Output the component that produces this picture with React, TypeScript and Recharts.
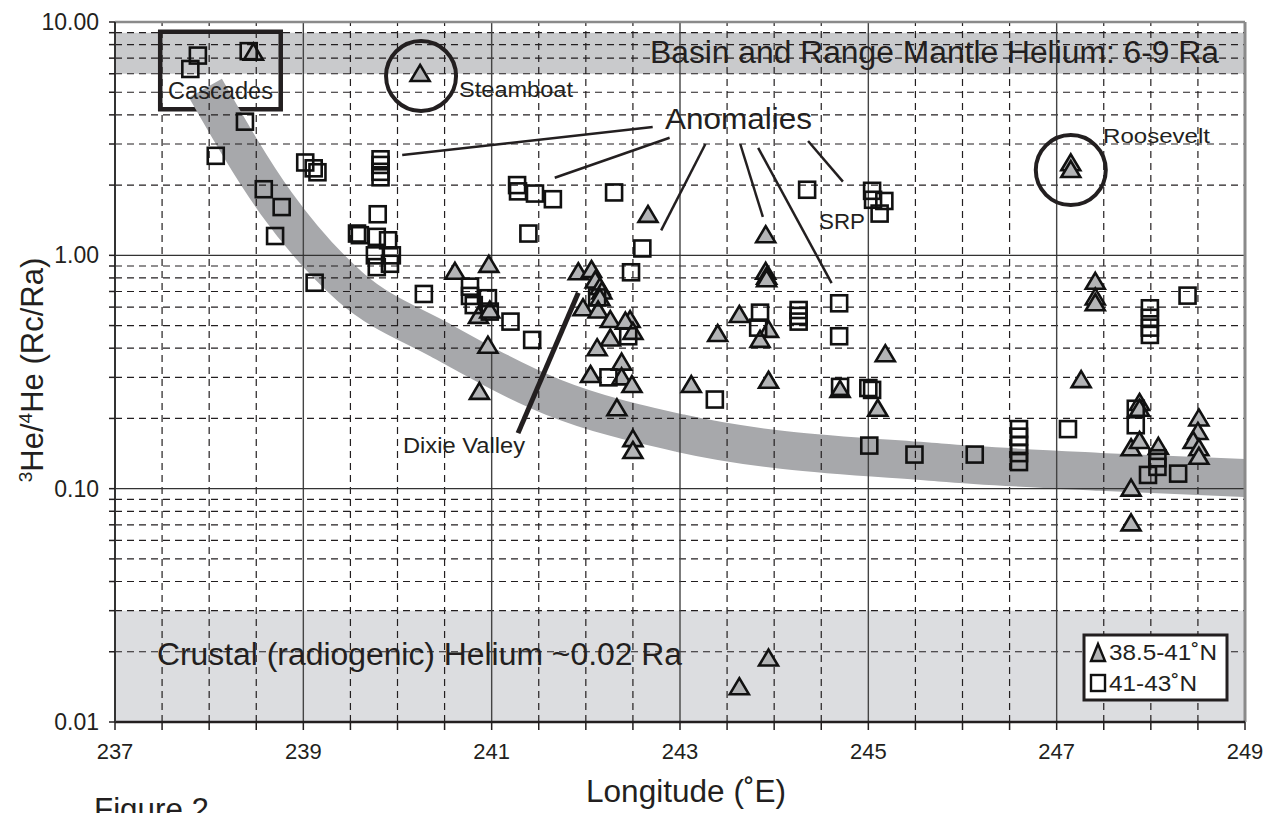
import React from "react";
import {
  ComposedChart,
  Scatter,
  Line,
  XAxis,
  YAxis,
  ReferenceArea,
  ReferenceLine,
  ReferenceDot
} from "recharts";

const INK = "#231f20";
const FONT = "'Liberation Sans', Arial, Helvetica, sans-serif";

// [longitude °E, 3He/4He (Rc/Ra)]
const lat385to41: [number, number][] = [
  [238.47, 7.39], [240.24, 5.99], [240.61, 0.85], [240.97, 0.91], [240.86, 0.55],
  [240.98, 0.58], [240.96, 0.41], [240.87, 0.26], [241.92, 0.846], [242.06, 0.865],
  [242.1, 0.78], [242.15, 0.73], [242.17, 0.7], [242.15, 0.655], [241.97, 0.593],
  [242.13, 0.58], [242.26, 0.528], [242.47, 0.528], [242.42, 0.52], [242.5, 0.47],
  [242.26, 0.44], [242.12, 0.4], [242.38, 0.347], [242.05, 0.307], [242.38, 0.3],
  [242.49, 0.278], [242.33, 0.221], [242.5, 0.163], [242.5, 0.145], [242.66, 1.49],
  [243.91, 1.22], [243.12, 0.278], [243.4, 0.46], [243.63, 0.555], [243.91, 0.85],
  [243.92, 0.81], [243.92, 0.79], [243.94, 0.479], [243.85, 0.434], [243.94, 0.29],
  [244.7, 0.265], [245.1, 0.22], [245.18, 0.377], [247.15, 2.48], [247.15, 2.32],
  [247.41, 0.77], [247.41, 0.66], [247.41, 0.623], [247.26, 0.292], [247.88, 0.233],
  [247.88, 0.22], [247.79, 0.149], [247.88, 0.16], [248.08, 0.151], [248.51, 0.2],
  [248.5, 0.175], [248.45, 0.16], [248.51, 0.149], [248.51, 0.137], [247.79, 0.1],
  [247.79, 0.071], [243.94, 0.0187], [243.63, 0.0141]
];

const lat41to43: [number, number][] = [
  [237.8, 6.29], [237.88, 7.18], [238.42, 7.5], [238.38, 3.74], [238.07, 2.67],
  [239.02, 2.5], [239.11, 2.36], [239.15, 2.27], [239.82, 2.58], [239.82, 2.44],
  [239.82, 2.28], [239.82, 2.16], [238.58, 1.92], [238.77, 1.61], [238.7, 1.21],
  [239.79, 1.5], [239.57, 1.24], [239.6, 1.22], [239.78, 1.2], [239.9, 1.16],
  [239.94, 1.0], [239.76, 1.0], [239.92, 0.92], [239.78, 0.89], [241.39, 1.24],
  [241.27, 2.0], [241.28, 1.88], [241.46, 1.84], [239.12, 0.763], [240.28, 0.683],
  [240.77, 0.734], [240.77, 0.67], [240.81, 0.612], [240.96, 0.655], [240.98, 0.574],
  [241.2, 0.52], [241.43, 0.434], [241.65, 1.74], [242.3, 1.86], [242.6, 1.07],
  [244.35, 1.91], [245.04, 1.89], [245.05, 1.73], [245.17, 1.71], [245.12, 1.51],
  [242.48, 0.846], [242.12, 0.66], [242.45, 0.45], [242.24, 0.3], [243.37, 0.241],
  [243.85, 0.568], [243.83, 0.49], [244.26, 0.583], [244.26, 0.55], [244.26, 0.52],
  [244.69, 0.623], [244.69, 0.45], [244.7, 0.273], [245.0, 0.27], [245.04, 0.265],
  [245.01, 0.153], [245.49, 0.14], [246.13, 0.14], [246.6, 0.18], [246.6, 0.167],
  [246.6, 0.154], [246.6, 0.142], [246.6, 0.13], [247.12, 0.18], [247.99, 0.593],
  [247.99, 0.54], [247.99, 0.49], [247.99, 0.456], [248.39, 0.672], [247.84, 0.22],
  [247.84, 0.187], [248.07, 0.135], [247.97, 0.1145], [248.29, 0.116], [248.07, 0.124]
];

// centre of the grey trend band
const trendBand: [number, number][] = [
  [237.96, 5.21], [238.71, 1.676], [239.5, 0.732], [240.45, 0.434], [241.65, 0.247],
  [243.0, 0.173], [245.76, 0.1295], [247.46, 0.118], [249.0, 0.111]
];

// annotation leader lines [x1, y1, x2, y2]
const anomalyLines: [number, number, number, number][] = [
  [242.71, 3.55, 240.05, 2.69],
  [242.89, 3.19, 241.67, 2.15],
  [243.27, 3.0, 242.8, 1.28],
  [243.64, 3.0, 243.88, 1.46],
  [243.83, 2.89, 244.61, 0.76],
  [244.36, 3.09, 244.73, 2.07]
];
const dixieLine: [number, number, number, number] = [241.92, 0.692, 241.28, 0.173];
const circles: [number, number][] = [[240.25, 5.87], [247.15, 2.32]];
const cascadesBox = { x1: 237.48, x2: 238.76, y1: 4.23, y2: 9.09 };

const xLabels = [237, 239, 241, 243, 245, 247, 249];
const xMajor = [239, 241, 243, 245, 247];
const xMinor = [237.5, 238, 238.5, 239.5, 240, 240.5, 241.5, 242, 242.5, 243.5, 244, 244.5,
  245.5, 246, 246.5, 247.5, 248, 248.5];
const xTicks = [...xLabels, ...xMinor].sort((a, b) => a - b);

const yLabels = [0.01, 0.1, 1, 10];
const yMajor = [0.1, 1];
const yMinor = [0.02, 0.03, 0.04, 0.05, 0.06, 0.07, 0.08, 0.09,
  0.2, 0.3, 0.4, 0.5, 0.6, 0.7, 0.8, 0.9,
  2, 3, 4, 5, 6, 7, 8, 9];
const yTicks = [...yLabels, ...yMinor].sort((a, b) => a - b);

const mantleRange = [6, 9];
const crustRange = [0.01, 0.03];

const TRI_FILL = "#b3b4b6";

const Triangle = (p: any) => {
  const { cx, cy } = p;
  if (cx == null || cy == null) return <g />;
  return (
    <path
      d={`M${cx},${cy - 9} L${cx + 9.5},${cy + 7} L${cx - 9.5},${cy + 7} Z`}
      fill={TRI_FILL}
      stroke="#111"
      strokeWidth={2.6}
    />
  );
};

const Square = (p: any) => {
  const { cx, cy } = p;
  if (cx == null || cy == null) return <g />;
  return (
    <rect x={cx - 8} y={cy - 8} width={16} height={16} fill="none" stroke="#111" strokeWidth={2.6} />
  );
};

const XTick = (p: any) => {
  const { x, payload } = p;
  if (!xLabels.includes(payload.value)) return <g />;
  return (
    <text x={x} y={759} textAnchor="middle" fontSize={22} fill={INK} fontFamily={FONT}>
      {payload.value}
    </text>
  );
};

const YTick = (p: any) => {
  const { y, payload } = p;
  if (!yLabels.includes(payload.value)) return <g />;
  return (
    <text x={99} y={y + 8} textAnchor="end" fontSize={23} fill={INK} fontFamily={FONT}>
      {payload.value.toFixed(2)}
    </text>
  );
};

export default function App() {
  const triData = lat385to41.map(([x, y]) => ({ x, y }));
  const sqData = lat41to43.map(([x, y]) => ({ x, y }));
  const bandData = trendBand.map(([x, y]) => ({ x, y }));

  return (
    <div
      style={{
        position: "fixed",
        left: 0,
        top: 0,
        width: 1277,
        height: 813,
        overflow: "hidden",
        background: "#fff",
        fontFamily: FONT
      }}
    >
      <ComposedChart width={1277} height={813} margin={{ top: 22, right: 32, bottom: 0, left: 0 }}>
        <XAxis
          dataKey="x"
          type="number"
          domain={[237, 249]}
          ticks={xTicks}
          interval={0}
          allowDataOverflow
          height={91}
          tickSize={8}
          tick={XTick}
          tickLine={{ stroke: INK, strokeWidth: 1.5 }}
          axisLine={{ stroke: INK, strokeWidth: 2.5 }}
        />
        <YAxis
          dataKey="y"
          type="number"
          scale="log"
          domain={[0.01, 10]}
          ticks={yTicks}
          interval={0}
          allowDataOverflow
          width={115}
          tickSize={6}
          tick={YTick}
          tickLine={{ stroke: INK, strokeWidth: 1.5 }}
          axisLine={{ stroke: "#333", strokeWidth: 2 }}
        />

        <ReferenceArea x1={237} x2={249} y1={mantleRange[0]} y2={mantleRange[1]} fill="#c9cacc" fillOpacity={1} stroke="none" />
        <ReferenceArea x1={237} x2={249} y1={crustRange[0]} y2={crustRange[1]} fill="#dcdde0" fillOpacity={1} stroke="none" />

        <Line
          data={bandData}
          dataKey="y"
          type="monotone"
          stroke="#a7a8ab"
          strokeWidth={38}
          strokeLinecap="butt"
          dot={false}
          activeDot={false}
          isAnimationActive={false}
        />

        {xMinor.map((v) => (
          <ReferenceLine key={"xm" + v} x={v} stroke={INK} strokeWidth={1.2} strokeDasharray="7 5" />
        ))}
        {yMinor.map((v) => (
          <ReferenceLine key={"ym" + v} y={v} stroke={INK} strokeWidth={1.2} strokeDasharray="7 5" />
        ))}
        {xMajor.map((v) => (
          <ReferenceLine key={"xM" + v} x={v} stroke="#444" strokeWidth={1.4} />
        ))}
        {yMajor.map((v) => (
          <ReferenceLine key={"yM" + v} y={v} stroke="#333" strokeWidth={1.4} />
        ))}
        <ReferenceLine y={10} stroke="#8a8a8a" strokeWidth={2.5} />
        <ReferenceLine x={249} stroke="#8a8a8a" strokeWidth={3} />

        {anomalyLines.map(([x1, y1, x2, y2], i) => (
          <ReferenceLine
            key={"an" + i}
            segment={[{ x: x1, y: y1 }, { x: x2, y: y2 }]}
            stroke={INK}
            strokeWidth={2.5}
          />
        ))}
        <ReferenceLine
          segment={[{ x: dixieLine[0], y: dixieLine[1] }, { x: dixieLine[2], y: dixieLine[3] }]}
          stroke={INK}
          strokeWidth={5}
        />
        {circles.map(([x, y], i) => (
          <ReferenceDot key={"c" + i} x={x} y={y} r={35} fill="none" stroke={INK} strokeWidth={4} />
        ))}
        <ReferenceArea
          x1={cascadesBox.x1}
          x2={cascadesBox.x2}
          y1={cascadesBox.y1}
          y2={cascadesBox.y2}
          fill="none"
          stroke={INK}
          strokeWidth={4.5}
        />

        <Scatter data={triData} shape={Triangle} isAnimationActive={false} />
        <Scatter data={sqData} shape={Square} isAnimationActive={false} />
      </ComposedChart>

      <svg
        width={1277}
        height={813}
        style={{ position: "absolute", left: 0, top: 0, pointerEvents: "none" }}
        fontFamily={FONT}
        fill={INK}
      >
        <text x={650} y={63} fontSize={31} textLength={569} lengthAdjust="spacingAndGlyphs">
          Basin and Range Mantle Helium: 6-9 Ra
        </text>
        <text x={157} y={665} fontSize={31} textLength={525} lengthAdjust="spacingAndGlyphs">
          Crustal (radiogenic) Helium ~0.02 Ra
        </text>
        <text x={168} y={99} fontSize={23} textLength={105} lengthAdjust="spacingAndGlyphs">
          Cascades
        </text>
        <text x={459} y={97} fontSize={22} textLength={114} lengthAdjust="spacingAndGlyphs">
          Steamboat
        </text>
        <text x={665} y={129} fontSize={30} textLength={147} lengthAdjust="spacingAndGlyphs">
          Anomalies
        </text>
        <text x={819} y={229} fontSize={22} textLength={46} lengthAdjust="spacingAndGlyphs">
          SRP
        </text>
        <text x={1103} y={143} fontSize={21} textLength={107} lengthAdjust="spacingAndGlyphs">
          Roosevelt
        </text>
        <text x={403} y={453} fontSize={22} textLength={122} lengthAdjust="spacingAndGlyphs">
          Dixie Valley
        </text>

        <text x={686} y={802} fontSize={31} textAnchor="middle" textLength={200} lengthAdjust="spacingAndGlyphs">
          Longitude (˚E)
        </text>
        <text x={94} y={820} fontSize={31} textLength={115} lengthAdjust="spacingAndGlyphs">
          Figure 2
        </text>
        <text x={43} y={370} fontSize={31} textAnchor="middle" transform="rotate(-90 43 370)">
          <tspan fontSize={19} dy={-11}>3</tspan>
          <tspan dy={11}>He/</tspan>
          <tspan fontSize={19} dy={-11}>4</tspan>
          <tspan dy={11}>He (Rc/Ra)</tspan>
        </text>

        <rect x={1084} y={635} width={143} height={65} fill="#fff" stroke={INK} strokeWidth={3} />
        <path d="M1098,644 L1105,661 L1091,661 Z" fill={TRI_FILL} stroke="#111" strokeWidth={2.4} />
        <rect x={1091} y={675} width={14} height={16} fill="none" stroke="#111" strokeWidth={2.4} />
        <text x={1109} y={660} fontSize={22} textLength={108} lengthAdjust="spacingAndGlyphs">
          38.5-41˚N
        </text>
        <text x={1109} y={691} fontSize={22} textLength={88} lengthAdjust="spacingAndGlyphs">
          41-43˚N
        </text>
      </svg>
    </div>
  );
}
